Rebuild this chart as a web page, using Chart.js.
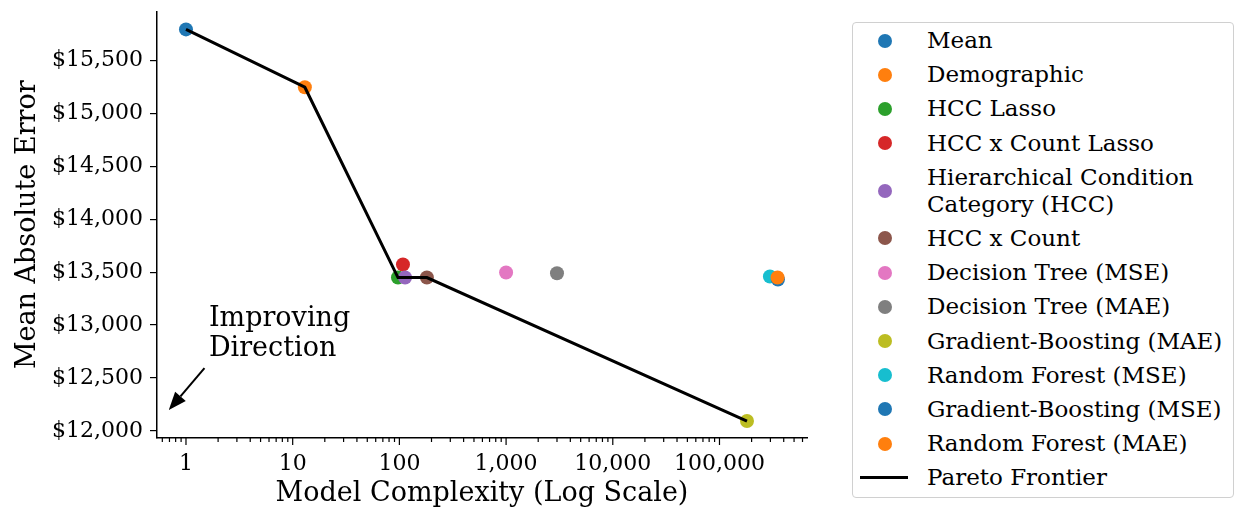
<!DOCTYPE html>
<html>
<head>
<meta charset="utf-8">
<script src="https://cdn.jsdelivr.net/npm/chart.js@4.4.1/dist/chart.umd.min.js"></script>
<style>
  body { margin: 0; background: #fff; }
  #wrap { position: relative; width: 1238px; height: 512px; }
  #chart { position: absolute; left: 0; top: 0; }
  #legend {
    position: absolute; left: 852px; top: 22px; width: 382px; height: 476px;
    box-sizing: border-box; border: 1.5px solid #d0d0d0; border-radius: 4px;
    font-family: "DejaVu Serif", serif; font-size: 23px; color: #000;
    padding-top: 4px; background: #fff;
  }
  .row { display: flex; align-items: center; margin-bottom: 7.2px; line-height: 27px; }
  .mk { width: 74px; flex: none; position: relative; height: 14px; }
  .dot { position: absolute; left: 25px; top: 0; width: 14px; height: 14px; border-radius: 50%; }
  .ln { position: absolute; left: 7px; top: 5.5px; width: 48px; height: 3px; background: #000; }
</style>
</head>
<body>
<div id="wrap">
  <canvas id="chart" width="1238" height="512"></canvas>
  <div id="legend"></div>
</div>
<script>
// models, complexity (x) and mean absolute error (y)
const models = ["Mean", "Demographic", "HCC Lasso", "HCC x Count Lasso",
  "Hierarchical Condition\nCategory (HCC)", "HCC x Count", "Decision Tree (MSE)",
  "Decision Tree (MAE)", "Gradient-Boosting (MAE)", "Random Forest (MSE)",
  "Gradient-Boosting (MSE)", "Random Forest (MAE)"];
const complexity = [1, 13, 97, 108, 113, 181, 1000, 3000, 181000, 297000, 353000, 350000];
const mae = [15792, 15246, 13449, 13572, 13449, 13449, 13496, 13490, 12094, 13459, 13430, 13449];
const colors = ["#1f77b4", "#ff7f0e", "#2ca02c", "#d62728", "#9467bd", "#8c564b",
  "#e377c2", "#7f7f7f", "#bcbd22", "#17becf", "#1f77b4", "#ff7f0e"];

// indices of models on the pareto frontier
const frontier = [0, 1, 2, 5, 8];

const yTicks = [12000, 12500, 13000, 13500, 14000, 14500, 15000, 15500];
const xMajor = [1, 10, 100, 1000, 10000, 100000];

const serif = "'DejaVu Serif', serif";

// annotation (data coords)
const noteText = ["Improving", "Direction"];
const noteAt = { x: 1.64, y: 12988 };
const arrowFrom = { x: 1.49, y: 12593 };
const arrowTo = { x: 0.69, y: 12198 };

// later models drawn on top, frontier line above all
const datasets = models.map((m, i) => ({
  label: m,
  data: [{ x: complexity[i], y: mae[i] }],
  backgroundColor: colors[i],
  borderWidth: 0,
  pointRadius: 7,
  pointHoverRadius: 7,
  order: models.length - i
}));
datasets.push({
  label: "Pareto Frontier",
  data: frontier.map(i => ({ x: complexity[i], y: mae[i] })),
  showLine: true,
  borderColor: "#000",
  borderWidth: 3,
  pointRadius: 0,
  order: 0
});

const extras = {
  id: "extras",
  afterDraw(chart) {
    const ctx = chart.ctx;
    const xs = chart.scales.x, ys = chart.scales.y;
    // x tick marks (major and minor)
    ctx.save();
    ctx.strokeStyle = "#000";
    ctx.lineWidth = 1.2;
    xs.ticks.forEach(t => {
      const px = xs.getPixelForValue(t.value);
      const len = xMajor.includes(t.value) ? 7 : 4;
      ctx.beginPath();
      ctx.moveTo(px, xs.top);
      ctx.lineTo(px, xs.top + len);
      ctx.stroke();
    });
    // annotation text
    ctx.fillStyle = "#000";
    ctx.font = "27px " + serif;
    ctx.textBaseline = "alphabetic";
    const tx = xs.getPixelForValue(noteAt.x), ty = ys.getPixelForValue(noteAt.y);
    noteText.forEach((s, i) => ctx.fillText(s, tx, ty + i * 30));
    // arrow
    const x0 = xs.getPixelForValue(arrowFrom.x), y0 = ys.getPixelForValue(arrowFrom.y);
    const x1 = xs.getPixelForValue(arrowTo.x), y1 = ys.getPixelForValue(arrowTo.y);
    const ang = Math.atan2(y1 - y0, x1 - x0);
    const hl = 18, hw = 7;
    const bx = x1 - hl * Math.cos(ang), by = y1 - hl * Math.sin(ang);
    ctx.lineWidth = 2;
    ctx.beginPath();
    ctx.moveTo(x0, y0);
    ctx.lineTo(bx, by);
    ctx.stroke();
    ctx.beginPath();
    ctx.moveTo(x1, y1);
    ctx.lineTo(bx + hw * Math.sin(ang), by - hw * Math.cos(ang));
    ctx.lineTo(bx - hw * Math.sin(ang), by + hw * Math.cos(ang));
    ctx.closePath();
    ctx.fill();
    ctx.restore();
  }
};

new Chart(document.getElementById("chart"), {
  type: "scatter",
  data: { datasets: datasets },
  plugins: [extras],
  options: {
    responsive: false,
    animation: false,
    layout: { padding: { left: 0, right: 431, top: 11.5, bottom: 0 } },
    plugins: { legend: { display: false }, tooltip: { enabled: false } },
    scales: {
      x: {
        type: "logarithmic",
        min: 0.535,
        max: 661000,
        afterBuildTicks(scale) {
          const t = [];
          for (let e = -1; e <= 5; e++) {
            for (let m = 1; m <= 9; m++) {
              const v = Math.round(m * Math.pow(10, e) * 10) / 10;
              if (v >= scale.min && v <= scale.max) t.push({ value: v });
            }
          }
          scale.ticks = t;
        },
        afterFit(scale) { scale.height = 74; scale.paddingLeft = 0; scale.paddingRight = 0; },
        ticks: {
          autoSkip: false, maxRotation: 0, color: "#000", padding: 6,
          font: { family: serif, size: 22 },
          callback: v => xMajor.includes(v) ? v.toLocaleString("en-US") : ""
        },
        grid: { drawOnChartArea: false, color: "rgba(0,0,0,0)", tickLength: 7 },
        border: { display: true, color: "#000", width: 1.5 },
        title: {
          display: true, text: "Model Complexity (Log Scale)", color: "#000",
          font: { family: serif, size: 27 }, padding: { top: 0, bottom: 2 }
        }
      },
      y: {
        min: 11934,
        max: 15961,
        afterBuildTicks(scale) { scale.ticks = yTicks.map(v => ({ value: v })); },
        afterFit(scale) { scale.width = 157; scale.paddingTop = 0; scale.paddingBottom = 0; },
        ticks: {
          color: "#000", padding: 7,
          font: { family: serif, size: 22 },
          callback: v => "$" + v.toLocaleString("en-US")
        },
        grid: { drawOnChartArea: false, color: "#000", tickLength: 7, lineWidth: 1.2 },
        border: { display: true, color: "#000", width: 1.5 },
        title: {
          display: true, text: "Mean Absolute Error", color: "#000",
          font: { family: serif, size: 27 }, padding: { top: 12, bottom: 0 }
        }
      }
    }
  }
});

// legend
const legend = document.getElementById("legend");
models.forEach((m, i) => {
  const row = document.createElement("div");
  row.className = "row";
  row.innerHTML = '<div class="mk"><div class="dot" style="background:' + colors[i] + '"></div></div>' +
    '<div>' + m.split("\n").join("<br>") + '</div>';
  legend.appendChild(row);
});
const lrow = document.createElement("div");
lrow.className = "row";
lrow.innerHTML = '<div class="mk"><div class="ln"></div></div><div>Pareto Frontier</div>';
legend.appendChild(lrow);
</script>
</body>
</html>
